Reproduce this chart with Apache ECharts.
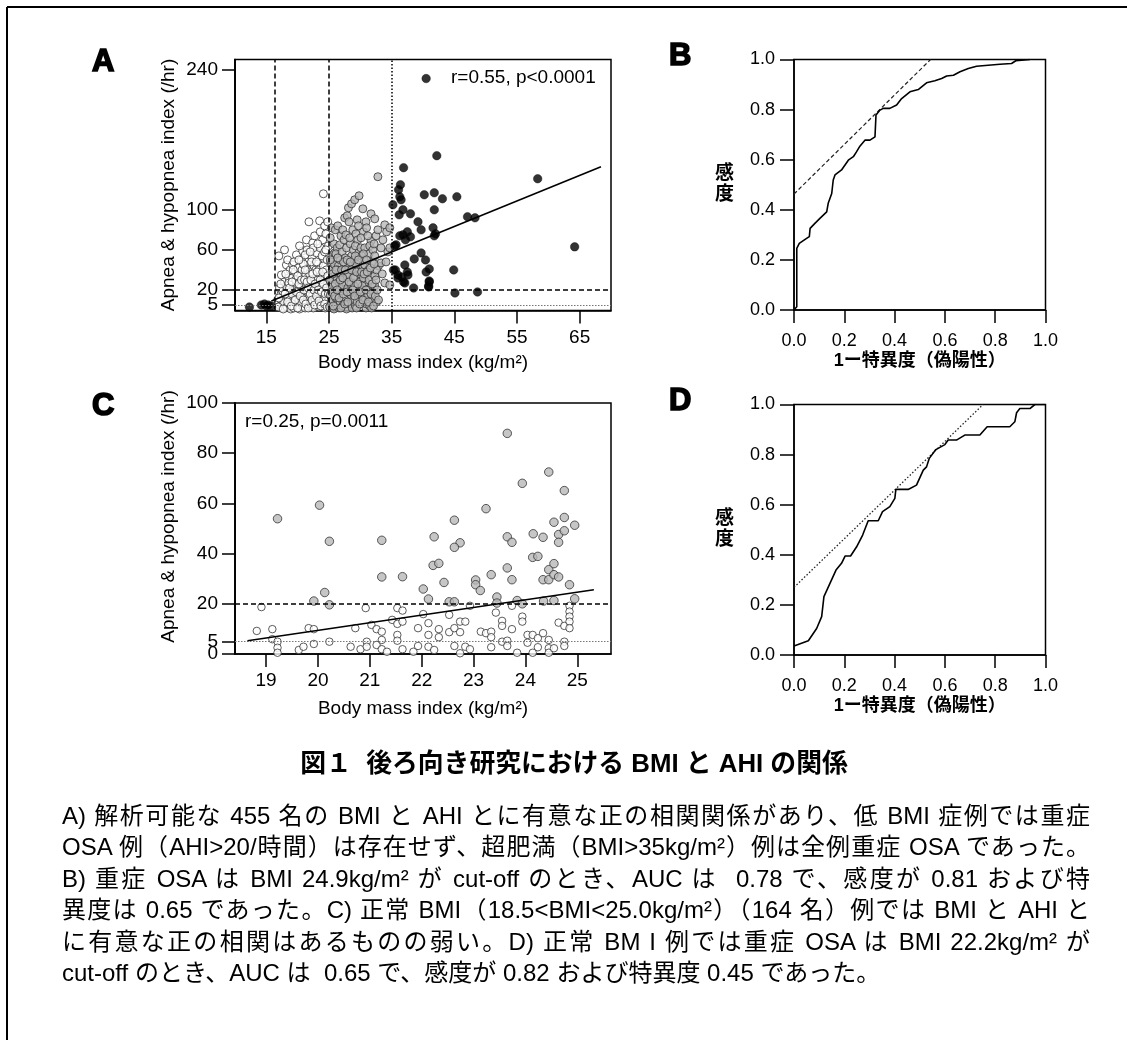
<!DOCTYPE html>
<html lang="ja"><head><meta charset="utf-8">
<script src="https://cdn.jsdelivr.net/npm/echarts@6/dist/echarts.min.js"></script>
<style>
html,body{margin:0;padding:0;background:#fff;}
#wrap{position:relative;width:1127px;height:1040px;}
#c{position:absolute;left:0;top:0;width:1127px;height:1040px;}
#cap{position:absolute;left:62px;top:800px;width:1028px;font-family:'Liberation Sans','Noto Sans CJK JP',sans-serif;font-size:24px;line-height:31.4px;color:#000;}
#cap div{text-align:justify;text-align-last:justify;text-justify:inter-character;}
#cap div.last{text-align:left;text-align-last:left;}
</style>
</head><body><div id="wrap"><div id="c"></div><div id="cap"></div></div>
<script>
// ---------- Panel A data: BMI vs AHI (all 455) ----------
var aWhite = [[16.8,10],[17.0,54],[17.2,4],[17.3,15],[17.5,2],[17.6,19],[17.8,7],[17.9,60],[17.9,28],[16.9,3],[17.1,22],[17.4,35],
[18.2,45],[18.2,24],[18.3,3],[18.5,12],[18.6,32],[18.7,6],[18.8,40],[18.9,18],[18.4,50],[18.9,1],[18.6,27],
[19.2,45],[19.2,32],[19.3,8],[19.4,2],[19.5,20],[19.6,38],[19.7,13],[19.8,55],[19.9,5],[19.9,26],[19.4,48],[19.7,30],[19.1,16],
[20.1,42],[20.2,10],[20.3,1],[20.4,22],[20.5,34],[20.6,50],[20.6,15],[20.8,59],[20.8,4],[20.9,28],[20.3,64],[20.7,40],[20.5,7],[20.1,18],
[21.0,45],[21.1,12],[21.2,2],[21.3,35],[21.4,24],[21.5,60],[21.5,8],[21.6,18],[21.7,48],[21.8,88],[21.8,30],[21.9,4],[21.2,55],[21.4,70],[21.6,40],[21.9,14],
[22.0,38],[22.1,6],[22.2,26],[22.3,52],[22.4,67],[22.4,15],[22.5,2],[22.6,44],[22.7,74],[22.7,32],[22.8,10],[22.9,21],[23.0,57],[22.2,48],[22.9,40],[22.5,62],
[23.1,18],[23.2,30],[23.3,46],[23.4,3],[23.5,89],[23.5,24],[23.6,62],[23.7,12],[23.8,36],[23.9,54],[24.0,70],[24.0,8],[23.2,66],[23.6,78],[23.9,28],[23.4,40],[23.1,5],
[24.1,116],[24.1,44],[24.2,20],[24.3,58],[24.4,2],[24.4,33],[24.5,76],[24.6,14],[24.7,50],[24.8,26],[24.9,64],[24.9,6],[24.3,84],[24.6,40],[24.8,88],[24.2,10],[24.5,60],
[17.0,12],[17.3,26],[17.7,1],[18.0,16],[18.1,36],[18.4,8],[18.7,22],[19.0,4],[19.1,28],[19.3,40],[19.6,10],[19.8,18],[20.0,34],[20.0,2],[20.2,26],[20.4,14],[20.6,30],[20.9,10],[20.9,46],[21.0,20],[21.1,30],[21.3,6],[21.5,28],[21.7,2],[21.7,22],[21.9,36],[22.0,16],[22.1,30],[22.3,10],[22.4,36],[22.6,20],[22.7,5],[22.8,26],[23.0,14],[23.1,38],[23.3,20],[23.4,9],[23.6,30],[23.7,4],[23.8,18],[24.0,38],[24.1,26],[24.3,6],[24.4,16],[24.6,22],[24.7,3],[24.8,34],[24.9,16],[23.0,48],[22.0,58],[21.2,40],[20.2,50]];
var aGrey = [[25.1,3],[25.2,15],[25.3,28],[25.4,82],[25.4,7],[25.5,40],[25.6,55],[25.7,20],[25.8,66],[25.9,34],[25.9,57],[25.3,48],[25.6,10],[25.8,1],[25.2,72],[25.5,24],[25.9,45],
[26.0,80],[26.1,12],[26.2,30],[26.3,62],[26.4,84],[26.4,10],[26.5,44],[26.6,2],[26.7,65],[26.7,22],[26.8,50],[26.9,36],[26.9,74],[26.2,5],[26.5,18],[26.1,56],[26.6,28],[26.8,8],[26.3,40],
[27.0,16],[27.1,58],[27.2,4],[27.3,38],[27.4,70],[27.5,92],[27.5,45],[27.5,20],[27.6,28],[27.7,8],[27.8,62],[27.9,94],[27.9,33],[27.2,80],[27.4,12],[27.6,52],[27.8,1],[27.1,25],[27.7,75],[27.3,48],
[28.0,22],[28.1,102],[28.2,42],[28.3,6],[28.4,66],[28.5,30],[28.6,106],[28.6,54],[28.6,14],[28.7,2],[28.8,80],[28.8,38],[28.9,60],[28.2,88],[28.4,18],[28.9,10],[28.3,72],[28.7,46],[28.1,35],[28.5,26],
[29.0,50],[29.1,110],[29.1,34],[29.2,4],[29.3,76],[29.4,2],[29.4,20],[29.5,90],[29.6,70],[29.6,42],[29.7,12],[29.8,114],[29.8,58],[29.9,28],[29.2,64],[29.5,8],[29.3,46],[29.7,84],[29.9,16],[29.0,24],
[30.0,36],[30.1,62],[30.2,20],[30.3,6],[30.4,101],[30.4,44],[30.5,78],[30.6,14],[30.7,62],[30.7,45],[30.8,28],[30.9,2],[30.9,88],[30.2,54],[30.5,32],[30.8,10],[30.1,72],[30.6,50],[30.3,24],
[31.0,82],[31.0,6],[31.2,14],[31.3,40],[31.4,56],[31.5,4],[31.6,22],[31.7,96],[31.7,69],[31.8,33],[31.9,48],[31.2,74],[31.5,64],[31.9,12],[31.4,30],[31.1,20],[31.8,2],
[32.0,60],[32.1,18],[32.3,91],[32.3,54],[32.3,34],[32.3,24],[32.5,74],[32.6,8],[32.8,80],[32.8,133],[32.9,44],[32.2,66],[32.6,40],
[33.3,62],[33.3,47],[33.6,70],[33.9,85],[33.9,27],[34.2,78],[34.4,58],[34.7,82],[34.7,62],[34.7,25],[33.5,36],[34.1,48],
[25.1,30],[25.2,50],[25.4,18],[25.6,36],[25.7,4],[25.9,14],[26.0,26],[26.1,40],[26.3,20],[26.4,52],[26.6,12],[26.8,30],[26.9,2],[27.0,40],[27.2,32],[27.3,16],[27.5,6],[27.6,40],[27.9,18],[27.9,50],[28.0,8],[28.2,28],[28.4,48],[28.6,40],[28.8,20],[28.9,32],[29.1,14],[29.2,54],[29.4,38],[29.6,26],[29.7,50],[29.9,6],[30.0,18],[30.2,38],[30.4,10],[30.5,56],[30.6,36],[30.9,20],[31.0,50],[31.1,38],[31.3,8],[31.6,42],[31.7,16],[31.9,26],[32.1,4],[32.2,46],[32.4,14],[32.5,30],[32.7,20],[32.9,10]];
var aBlack = [[12.3,3],[14.2,5],[14.7,6],[15.0,4],[15.3,5],[15.8,4],
[40.5,231],[42.2,154],[36.9,142],[58.3,131],[36.4,125],[36.1,120],[36.3,113],[40.2,115],[41.8,117],[43.1,111],[45.4,113],[35.2,105],[41.8,100],[36.2,95],[38.0,96],[47.1,93],[48.3,92],[39.2,88],[39.7,80],[41.6,82],[41.8,74],[37.5,78],[36.3,74],[37.2,70],[35.7,65],[64.2,63],[39.7,57],[38.6,51],[40.4,50],[37.1,45],[35.3,40],[41.0,41],[40.5,38],[44.9,40],[36.0,35],[37.6,35],[36.6,33],[41.0,28],[36.9,28],[38.5,22],[40.9,23],[45.1,17],[48.7,18],
[36.8,75],[35.5,64],[36.0,32],[37.1,27],[41.0,29],[40.9,24],[42.0,76],[36.5,110],[36.8,100],[35.6,40],[38.0,73],[37.5,38]];
var aRegression = [[15.8,9],[68.4,143]];
var aXTicks = [15,25,35,45,55,65];
var aYTicks = [5,20,60,100,240];
var aVLinesDashed = [16.3,25];
var aVLineDotted = 35;
var aHLineDashed = 20;
var aHLineDotted = 5;
var aStatText = 'r=0.55, p<0.0001';

// ---------- Panel B: ROC curve (all patients) ----------
var bRoc = [[0,0],[0.004,0.007],[0.011,0.013],[0.011,0.246],[0.021,0.266],[0.05,0.286],[0.061,0.293],[0.064,0.326],[0.083,0.346],[0.103,0.366],[0.13,0.392],[0.136,0.426],[0.15,0.465],[0.156,0.519],[0.163,0.539],[0.189,0.559],[0.216,0.598],[0.236,0.612],[0.249,0.632],[0.262,0.654],[0.282,0.678],[0.302,0.678],[0.322,0.691],[0.326,0.778],[0.342,0.798],[0.355,0.805],[0.381,0.805],[0.408,0.818],[0.428,0.844],[0.461,0.871],[0.494,0.880],[0.527,0.907],[0.560,0.915],[0.587,0.924],[0.607,0.934],[0.634,0.937],[0.660,0.951],[0.693,0.964],[0.726,0.973],[0.772,0.977],[0.819,0.981],[0.865,0.984],[0.882,0.995],[0.905,0.997],[0.938,1.0]];
var bTangent = [[0,0.463],[0.543,1.0]];

// ---------- Panel C data: normal BMI (164) ----------
var cWhite = [[18.91,18.7],[18.82,9.2],[19.12,9.9],[19.12,5.9],[19.22,4.9],[19.22,2.5],[19.22,0.5],[19.63,1.6],[19.72,2.9],[19.82,10.3],[19.92,9.9],[19.92,4],[20.22,4.9],[20.63,2.9],[20.72,10.3],[20.82,1.9],[20.92,18.3],[20.94,4.9],[20.94,2.9],[21.03,11.6],[21.13,9.9],[21.23,8.9],[21.13,3.6],[21.23,5.6],[21.23,1.9],[21.33,0.9],[21.43,13.6],[21.53,18.3],[21.63,17.3],[21.53,12],[21.63,12.9],[21.53,7.6],[21.53,5.3],[21.63,1.9],[21.84,0.9],[21.93,10.3],[21.93,3.2],[22.03,15.9],[22.13,12.3],[22.13,7.6],[22.13,2.9],[22.24,1.6],[22.33,9.9],[22.33,6.7],[22.53,15.6],[22.53,8.7],[22.63,10.3],[22.63,3.2],[22.74,12.9],[22.74,8.7],[22.74,0.3],[22.84,12.9],[22.84,2.9],[22.93,1.9],[22.93,19.2],[23.14,8.9],[23.24,8.3],[23.34,8.9],[23.34,6.7],[23.34,2.7],[23.43,16.5],[23.55,13.2],[23.55,11.2],[23.55,4.9],[23.65,5.3],[23.65,3.2],[23.74,9.9],[23.74,19.2],[23.84,0.5],[23.94,14.9],[23.94,12.9],[24.04,7.6],[24.04,4.5],[24.14,7.6],[24.14,0.5],[24.24,2.7],[24.24,6.3],[24.34,8.3],[24.45,5.6],[24.45,2.3],[24.45,0.5],[24.55,2.3],[24.64,12.5],[24.75,11.2],[24.75,4.9],[24.75,3.2],[24.85,19.2],[24.85,16.9],[24.85,14.9],[24.85,12.9],[24.85,10.3]];
var cGrey = [[19.22,53.9],[20.03,59.3],[20.22,44.9],[20.13,24.5],[19.92,21.1],[20.22,19.6],[21.23,45.3],[21.23,30.7],[21.63,30.8],[22.03,25.9],[22.24,46.7],[22.22,35.3],[22.33,36.1],[22.13,21.9],[22.43,28.5],[22.63,53.3],[22.74,44.3],[22.63,42.5],[22.53,20.8],[22.63,20.8],[23.24,57.9],[23.04,29.5],[23.04,27.6],[23.13,25.3],[23.34,31.6],[23.45,22.7],[23.45,20.3],[23.65,87.9],[23.65,46.7],[23.74,44.5],[23.65,34.3],[23.74,29.6],[23.84,21.3],[23.94,20.0],[23.94,68],[24.15,47.9],[24.14,38.5],[24.24,38.9],[24.34,46.5],[24.34,29.6],[24.45,72.5],[24.45,29.6],[24.45,33.6],[24.55,52.5],[24.55,36],[24.55,31.6],[24.64,47.6],[24.64,44.5],[24.64,30.7],[24.75,65.1],[24.75,54.4],[24.75,49.1],[24.85,27.6],[24.95,51.3],[24.95,22],[24.55,21.3],[24.35,21.1]];
var cRegression = [[18.64,5.3],[25.32,25.6]];
var cXTicks = [19,20,21,22,23,24,25];
var cYTicks = [0,5,20,40,60,80,100];
var cHLineDashed = 20;
var cHLineDotted = 5;
var cStatText = 'r=0.25, p=0.0011';

// ---------- Panel D: ROC curve (normal BMI) ----------
var dRoc = [[0,0.036],[0.057,0.057],[0.09,0.106],[0.11,0.153],[0.119,0.233],[0.143,0.286],[0.167,0.339],[0.189,0.366],[0.203,0.395],[0.225,0.395],[0.249,0.432],[0.273,0.479],[0.295,0.536],[0.335,0.536],[0.352,0.572],[0.381,0.592],[0.401,0.625],[0.405,0.661],[0.454,0.661],[0.487,0.678],[0.514,0.738],[0.527,0.751],[0.538,0.785],[0.564,0.820],[0.6,0.840],[0.613,0.858],[0.646,0.858],[0.679,0.878],[0.739,0.878],[0.768,0.911],[0.858,0.911],[0.878,0.931],[0.885,0.967],[0.898,0.984],[0.938,0.984],[0.958,1.0],[1.0,1.0]];
var dTangent = [[0,0.27],[0.752,1.0]];

// ---------- texts ----------
var panelLetters = ['A','B','C','D'];
var rocXName = '1ー特異度（偽陽性）';
var rocYName = '感\n度';
var scatterYName = 'Apnea & hypopnea index (/hr)';
var scatterXName = 'Body mass index (kg/m²)';
var titleText = '図１  後ろ向き研究における BMI と AHI の関係';
var captionLines = [
 'A) 解析可能な 455 名の BMI と AHI とに有意な正の相関関係があり、低 BMI 症例では重症',
 'OSA 例（AHI>20/時間）は存在せず、超肥満（BMI>35kg/m²）例は全例重症 OSA であった。',
 'B) 重症 OSA は BMI 24.9kg/m² が cut-off のとき、AUC は\u00a0 0.78 で、感度が 0.81 および特',
 '異度は 0.65 であった。C) 正常 BMI（18.5<BMI<25.0kg/m²）（164 名）例では BMI と AHI と',
 'に有意な正の相関はあるものの弱い。D) 正常 BM I 例では重症 OSA は BMI 22.2kg/m² が',
 'cut-off のとき、AUC は\u00a0 0.65 で、感度が 0.82 および特異度 0.45 であった。'
];

var LAT = "'Liberation Sans', Arial, 'Noto Sans CJK JP', sans-serif";
var CJK = "'Liberation Sans', 'Noto Sans CJK JP', sans-serif";
var BLACK = '#000';

// caption (real text, justified like the printed figure)
var cap = document.getElementById('cap');
captionLines.forEach(function (t, i) {
  var d = document.createElement('div');
  d.textContent = t;
  if (i === captionLines.length - 1) d.className = 'last';
  cap.appendChild(d);
});

var chart = echarts.init(document.getElementById('c'), null, {renderer:'canvas'});

function axisBase(gi, extra) {
  var a = {
    gridIndex: gi, type: 'value',
    axisLine: {show: true, onZero: false, lineStyle: {color: BLACK, width: 1.5}},
    axisTick: {show: true, inside: false, length: 13, lineStyle: {color: BLACK, width: 1.5}},
    axisLabel: {color: BLACK, fontFamily: LAT, fontSize: 19, showMinLabel: true, showMaxLabel: true},
    splitLine: {show: false}
  };
  for (var k in extra) {
    if (typeof extra[k] === 'object' && !Array.isArray(extra[k]) && a[k]) {
      for (var j in extra[k]) a[k][j] = extra[k][j];
    } else a[k] = extra[k];
  }
  return a;
}

var gridA = {left: 235, top: 59.5, width: 376, height: 251};
var gridB = {left: 794, top: 59.5, width: 251.5, height: 250.5};
var gridC = {left: 235, top: 403, width: 376, height: 251};
var gridD = {left: 794, top: 404.5, width: 251.5, height: 250.5};
[gridA, gridB, gridC, gridD].forEach(function (g) { g.show = true; g.borderColor = BLACK; g.borderWidth = 1.5; g.backgroundColor = 'transparent'; });

function rocFmt(v) { return v.toFixed(1); }

// the lowest y tick sits very close to the next one; it is given its own
// axis so that ECharts' overlap hiding between neighbouring labels does not drop either label.
var aYLow = aYTicks.slice(0, 1), aYMain = aYTicks.slice(1);
var cYLow = cYTicks.slice(0, 1), cYMain = cYTicks.slice(1);

var xAxes = [
  axisBase(0, {min: 10, max: 70,
    axisTick: {customValues: aXTicks}, axisLabel: {customValues: aXTicks, margin: 18},
    name: scatterXName, nameLocation: 'middle', nameGap: 43,
    nameTextStyle: {color: BLACK, fontFamily: LAT, fontSize: 19}}),
  axisBase(1, {min: 0, max: 1, interval: 0.2,
    axisLabel: {formatter: rocFmt, margin: 22, fontSize: 18},
    name: rocXName, nameLocation: 'middle', nameGap: 42,
    nameTextStyle: {color: BLACK, fontFamily: CJK, fontSize: 18, fontWeight: 'bold'}}),
  axisBase(2, {min: 18.4, max: 25.65,
    axisTick: {customValues: cXTicks}, axisLabel: {customValues: cXTicks, margin: 17},
    name: scatterXName, nameLocation: 'middle', nameGap: 45,
    nameTextStyle: {color: BLACK, fontFamily: LAT, fontSize: 19}}),
  axisBase(3, {min: 0, max: 1, interval: 0.2,
    axisLabel: {formatter: rocFmt, margin: 22, fontSize: 18},
    name: rocXName, nameLocation: 'middle', nameGap: 42,
    nameTextStyle: {color: BLACK, fontFamily: CJK, fontSize: 18, fontWeight: 'bold'}})
];
var yAxes = [
  axisBase(0, {min: -0.5, max: 250,
    axisTick: {customValues: aYMain}, axisLabel: {customValues: aYMain, margin: 17},
    name: scatterYName, nameLocation: 'middle', nameGap: 57, nameRotate: 90,
    nameTextStyle: {color: BLACK, fontFamily: LAT, fontSize: 19}}),
  axisBase(1, {min: 0, max: 1, interval: 0.2,
    axisTick: {length: 14}, axisLabel: {formatter: rocFmt, margin: 19, fontSize: 18},
    name: rocYName, nameLocation: 'middle', nameGap: 60, nameRotate: 0,
    nameTextStyle: {color: BLACK, fontFamily: CJK, fontSize: 19, fontWeight: 'bold', lineHeight: 21}}),
  axisBase(2, {min: 0, max: 100,
    axisTick: {customValues: cYMain}, axisLabel: {customValues: cYMain, margin: 17},
    name: scatterYName, nameLocation: 'middle', nameGap: 57, nameRotate: 90,
    nameTextStyle: {color: BLACK, fontFamily: LAT, fontSize: 19, padding: [0, 0, 0, 24]}}),
  axisBase(3, {min: 0, max: 1, interval: 0.2,
    axisTick: {length: 14}, axisLabel: {formatter: rocFmt, margin: 19, fontSize: 18},
    name: rocYName, nameLocation: 'middle', nameGap: 60, nameRotate: 0,
    nameTextStyle: {color: BLACK, fontFamily: CJK, fontSize: 19, fontWeight: 'bold', lineHeight: 21}}),
  axisBase(0, {min: -0.5, max: 250, position: 'left',
    axisTick: {customValues: aYLow}, axisLabel: {customValues: aYLow, margin: 17}}),
  axisBase(2, {min: 0, max: 100, position: 'left',
    axisTick: {customValues: cYLow}, axisLabel: {customValues: cYLow, margin: 17}})
];

var openStyle = {color: '#ffffff', borderColor: '#333', borderWidth: 1};
var greyStyle = {color: '#b8b8b8', borderColor: '#333', borderWidth: 1};
var blackStyle = {color: '#000000', borderColor: '#000000', borderWidth: 0.5};

function refLine(axisKey, v, type, color, width) {
  var d = {lineStyle: {type: type, color: color, width: width}};
  d[axisKey] = v;
  return d;
}

var aMarks = [];
aVLinesDashed.forEach(function (v) { aMarks.push(refLine('xAxis', v, [5, 3], BLACK, 1.5)); });
aMarks.push(refLine('xAxis', aVLineDotted, [1.5, 2], BLACK, 1.5));
aMarks.push(refLine('yAxis', aHLineDashed, [5, 3], BLACK, 1.5));
aMarks.push(refLine('yAxis', aHLineDotted, [1.5, 1.5], '#777', 1));

var cMarks = [
  refLine('yAxis', cHLineDashed, [5, 3], BLACK, 1.5),
  refLine('yAxis', cHLineDotted, [1.5, 1.5], '#777', 1)
];

function markLineOf(data) {
  return {silent: true, symbol: ['none', 'none'], label: {show: false}, animation: false, data: data};
}

var series = [
  {type: 'scatter', xAxisIndex: 0, yAxisIndex: 0, data: aWhite, symbolSize: 8, itemStyle: openStyle, z: 2},
  {type: 'scatter', xAxisIndex: 0, yAxisIndex: 0, data: aGrey, symbolSize: 8, itemStyle: greyStyle, z: 3},
  {type: 'scatter', xAxisIndex: 0, yAxisIndex: 0, data: aBlack, symbolSize: 8.5, itemStyle: blackStyle, z: 4,
    markLine: markLineOf(aMarks)},
  {type: 'line', xAxisIndex: 0, yAxisIndex: 0, data: aRegression, showSymbol: false, symbol: 'none',
    lineStyle: {color: BLACK, width: 1.6}, z: 5},
  {type: 'line', xAxisIndex: 1, yAxisIndex: 1, data: bRoc, showSymbol: false, symbol: 'none',
    lineStyle: {color: BLACK, width: 1.6}, z: 5},
  {type: 'line', xAxisIndex: 1, yAxisIndex: 1, data: bTangent, showSymbol: false, symbol: 'none',
    lineStyle: {color: '#222', width: 1.2, type: [4, 2.5]}, z: 4},
  {type: 'scatter', xAxisIndex: 2, yAxisIndex: 2, data: cWhite, symbolSize: 7.5, itemStyle: openStyle, z: 2,
    markLine: markLineOf(cMarks)},
  {type: 'scatter', xAxisIndex: 2, yAxisIndex: 2, data: cGrey, symbolSize: 8.5, itemStyle: greyStyle, z: 3},
  {type: 'line', xAxisIndex: 2, yAxisIndex: 2, data: cRegression, showSymbol: false, symbol: 'none',
    lineStyle: {color: BLACK, width: 1.6}, z: 5},
  {type: 'line', xAxisIndex: 3, yAxisIndex: 3, data: dRoc, showSymbol: false, symbol: 'none',
    lineStyle: {color: BLACK, width: 1.6}, z: 5},
  {type: 'line', xAxisIndex: 3, yAxisIndex: 3, data: dTangent, showSymbol: false, symbol: 'none',
    lineStyle: {color: '#222', width: 1.3, type: [1.5, 2]}, z: 4}
];

var letterPos = [[92, 62], [669, 56], [92, 406], [669, 401]];
var graphics = [];
graphics.push({type: 'line', shape: {x1: 7, y1: 7, x2: 1127, y2: 7}, style: {stroke: BLACK, lineWidth: 2}});
graphics.push({type: 'line', shape: {x1: 7, y1: 7, x2: 7, y2: 1040}, style: {stroke: BLACK, lineWidth: 2}});
panelLetters.forEach(function (t, i) {
  graphics.push({type: 'text', x: letterPos[i][0], y: letterPos[i][1],
    style: {text: t, font: "bold 31px 'Liberation Sans', Arial, sans-serif", fill: BLACK,
      stroke: BLACK, lineWidth: 1.6, textVerticalAlign: 'middle'}});
});
graphics.push({type: 'text', x: 451, y: 78, style: {text: aStatText, font: "19px " + LAT, fill: BLACK, textVerticalAlign: 'middle'}});
graphics.push({type: 'text', x: 245, y: 422, style: {text: cStatText, font: "19px " + LAT, fill: BLACK, textVerticalAlign: 'middle'}});
graphics.push({type: 'text', x: 574, y: 765, style: {text: titleText, font: "bold 25.8px " + CJK, fill: BLACK, textAlign: 'center', textVerticalAlign: 'middle'}});

chart.setOption({
  animation: false,
  backgroundColor: 'transparent',
  grid: [gridA, gridB, gridC, gridD],
  xAxis: xAxes,
  yAxis: yAxes,
  series: series,
  graphic: graphics
});
</script></body></html>
